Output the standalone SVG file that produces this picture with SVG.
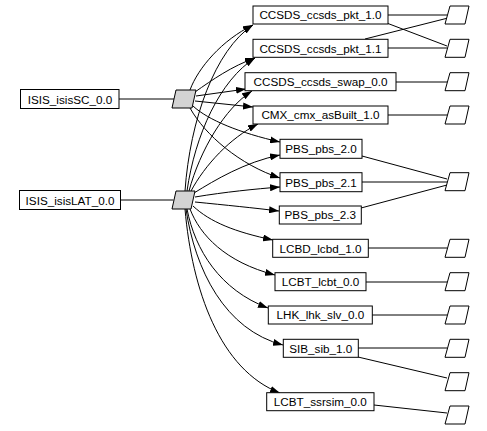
<svg xmlns="http://www.w3.org/2000/svg" width="487" height="431" viewBox="0 0 487 431">
<style>
.box{fill:#fff;stroke:#000;stroke-width:1}
.para{fill:#fff;stroke:#000;stroke-width:1}
.gray{fill:#d3d3d3;stroke:#000;stroke-width:1}
.e{fill:none;stroke:#000;stroke-width:1}
.a{marker-end:url(#ah)}
text{font-family:"Liberation Sans",Arial,sans-serif;font-size:11.7px;fill:#000;text-anchor:middle}
</style>
<defs>
<marker id="ah" markerWidth="10" markerHeight="7" refX="10" refY="3.5" orient="auto" markerUnits="userSpaceOnUse"><path d="M0,0 L10,3.5 L0,7 z" fill="#000"/></marker>
<polygon id="p" points="5,0 24,0 20,18 0,18"/>
</defs>
<g id="connectors">
<path class="e" d="M119,99 L174,99"/>
<path class="e" d="M121,200 L173.5,200"/>
<path class="e a" d="M190,90 C198,68 222,40 253,25"/>
<path class="e a" d="M195,92 C212,80 232,66 255,58"/>
<path class="e a" d="M196,96 L246,89"/>
<path class="e a" d="M195,101 L253,107"/>
<path class="e a" d="M193,106 C208,120 240,133 280,142"/>
<path class="e a" d="M190,108 C205,135 240,165 280,178"/>
<path class="e a" d="M185,191 C190,120 215,50 253,25"/>
<path class="e a" d="M187,191 C195,135 220,80 255,58"/>
<path class="e a" d="M189,191 C200,150 225,108 252,91"/>
<path class="e a" d="M191,191 C205,165 230,138 258,124"/>
<path class="e a" d="M194,193 C215,180 245,162 280,155"/>
<path class="e a" d="M195,197 C225,192 255,189 280,187"/>
<path class="e a" d="M195,202 C225,205 255,208 279,211"/>
<path class="e a" d="M193,206 C210,222 235,232 273,240"/>
<path class="e a" d="M190,209 C200,235 225,262 275,275"/>
<path class="e a" d="M187,209 C195,250 220,290 268,308"/>
<path class="e a" d="M186,209 C195,270 225,330 283,345"/>
<path class="e a" d="M185,209 C192,290 220,370 280,393"/>
<path class="e" d="M388,15 L447.5,15"/>
<path class="e" d="M388,48 L447.5,48"/>
<path class="e" d="M388,23.5 L447,46"/>
<path class="e" d="M365,39 L448,18"/>
<path class="e" d="M396,82 L447.5,82"/>
<path class="e" d="M388,115 L447.5,115"/>
<path class="e" d="M362,156 L447,179"/>
<path class="e" d="M362,182 L447.5,182"/>
<path class="e" d="M361,208 L447,185"/>
<path class="e" d="M368,248 L447.5,248"/>
<path class="e" d="M366,282 L447.5,282"/>
<path class="e" d="M372,315 L447.5,315"/>
<path class="e" d="M358,348 L447.5,348"/>
<path class="e" d="M358,357 L447,378"/>
<path class="e" d="M374,405 L447,413"/>
</g>
<g id="isisSC"><rect class="box" x="20.5" y="89.5" width="98.5" height="19"/><text x="70" y="103.5">ISIS_isisSC_0.0</text></g>
<g id="isisLAT"><rect class="box" x="19.5" y="190.5" width="101" height="19"/><text x="70" y="204.5">ISIS_isisLAT_0.0</text></g>
<g id="gSC"><polygon class="gray" points="176,90 196,90 192,108 172,108"/></g>
<g id="gLAT"><polygon class="gray" points="176,191 195,191 191,209 172,209"/></g>
<g id="n1"><rect class="box" x="253" y="6" width="135" height="18"/><text x="320.5" y="19.3">CCSDS_ccsds_pkt_1.0</text></g>
<g id="n2"><rect class="box" x="253" y="39.3" width="135" height="18"/><text x="320.5" y="52.6">CCSDS_ccsds_pkt_1.1</text></g>
<g id="n3"><rect class="box" x="245" y="72.7" width="151" height="18"/><text x="320.5" y="86">CCSDS_ccsds_swap_0.0</text></g>
<g id="n4"><rect class="box" x="253" y="106" width="135" height="18"/><text x="320.5" y="119.3">CMX_cmx_asBuilt_1.0</text></g>
<g id="n5"><rect class="box" x="280" y="139.3" width="82" height="19"/><text x="321" y="153.1">PBS_pbs_2.0</text></g>
<g id="n6"><rect class="box" x="280" y="172.7" width="82" height="19"/><text x="321" y="186.5">PBS_pbs_2.1</text></g>
<g id="n7"><rect class="box" x="279.3" y="206" width="82" height="18"/><text x="320.3" y="219.3">PBS_pbs_2.3</text></g>
<g id="n8"><rect class="box" x="272.7" y="239.3" width="95.6" height="18"/><text x="320.5" y="252.6">LCBD_lcbd_1.0</text></g>
<g id="n9"><rect class="box" x="275" y="272.7" width="91" height="18"/><text x="320.5" y="286">LCBT_lcbt_0.0</text></g>
<g id="n10"><rect class="box" x="268.3" y="306" width="104" height="18"/><text x="320.3" y="319.3">LHK_lhk_slv_0.0</text></g>
<g id="n11"><rect class="box" x="283.3" y="339.3" width="75" height="18"/><text x="320.8" y="352.6">SIB_sib_1.0</text></g>
<g id="n12"><rect class="box" x="266.7" y="392.7" width="107.3" height="18"/><text x="320.3" y="406">LCBT_ssrsim_0.0</text></g>
<g id="o1"><use href="#p" class="para" x="445" y="6"/></g>
<g id="o2"><use href="#p" class="para" x="445" y="39.3"/></g>
<g id="o3"><use href="#p" class="para" x="445" y="72.7"/></g>
<g id="o4"><use href="#p" class="para" x="445" y="106"/></g>
<g id="o5"><use href="#p" class="para" x="445" y="172.7"/></g>
<g id="o6"><use href="#p" class="para" x="445" y="239.3"/></g>
<g id="o7"><use href="#p" class="para" x="445" y="272.7"/></g>
<g id="o8"><use href="#p" class="para" x="445" y="306"/></g>
<g id="o9"><use href="#p" class="para" x="445" y="339.3"/></g>
<g id="o10"><use href="#p" class="para" x="445" y="372.7"/></g>
<g id="o11"><use href="#p" class="para" x="445" y="406"/></g>
</svg>
